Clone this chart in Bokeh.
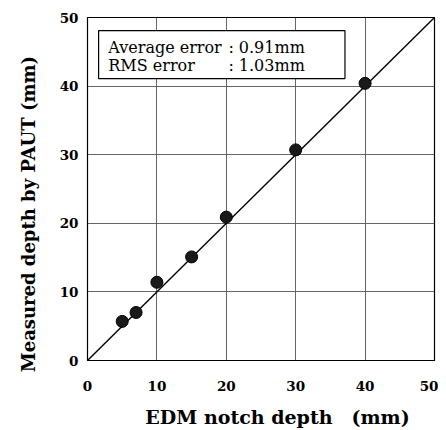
from bokeh.plotting import figure
from bokeh.models import BoxAnnotation, Label, Range1d, FixedTicker, ColumnDataSource
from bokeh.embed import file_html
from bokeh.resources import INLINE

# Data
edm_depth = [5, 7, 10, 15, 20, 30, 40]
paut_depth = [5.7, 7.0, 11.4, 15.1, 20.9, 30.7, 40.4]
ideal_x = [0, 50]
ideal_y = [0, 50]
ticks = [0, 10, 20, 30, 40, 50]
stat_names = ["Average error", "RMS error"]
stat_values = [": 0.91mm", ": 1.03mm"]
x_title = "EDM notch depth\u3000(mm)"
y_title = "Measured depth by PAUT (mm)"

FONT = "DejaVu Serif"
NB = "\u00a0"

p = figure(frame_width=347, frame_height=343, output_backend="svg", toolbar_location=None,
           x_range=Range1d(0, 50), y_range=Range1d(0, 50),
           min_border_left=87, min_border_right=4, min_border_top=17, min_border_bottom=62)

p.outline_line_color = "black"
p.outline_line_width = 1.2

for ax in (p.xaxis[0], p.yaxis[0]):
    ax.ticker = FixedTicker(ticks=ticks)
    ax.major_tick_in = 0
    ax.major_tick_out = 0
    ax.minor_tick_in = 0
    ax.minor_tick_out = 0
    ax.axis_line_color = "black"
    ax.major_label_text_font = FONT
    ax.major_label_text_font_style = "bold"
    ax.major_label_text_font_size = "13.5px"
    ax.major_label_text_color = "black"
    ax.axis_label_text_font = FONT
    ax.axis_label_text_font_style = "bold"
    ax.axis_label_text_color = "black"

# padding shifts the titles off-centre, as in the reference
p.xaxis.axis_label = NB * 5 + x_title
p.yaxis.axis_label = y_title + NB * 8
p.xaxis.axis_label_text_font_size = "19px"
p.yaxis.axis_label_text_font_size = "18px"
p.xaxis.major_label_standoff = 20
p.yaxis.major_label_standoff = 9
p.xaxis.axis_label_standoff = 12
p.yaxis.axis_label_standoff = 18

p.xgrid.ticker = FixedTicker(ticks=ticks)
p.ygrid.ticker = FixedTicker(ticks=ticks)
p.grid.grid_line_color = "#555555"
p.grid.grid_line_width = 1
p.grid.grid_line_alpha = 0.9

p.line(ideal_x, ideal_y, line_color="black", line_width=1.4)

src = ColumnDataSource(dict(x=edm_depth, y=paut_depth))
p.scatter("x", "y", source=src, size=12, fill_color="#1a1a1a", line_color="black")

box = BoxAnnotation(left=1.6, right=37.1, bottom=41.1, top=48.1,
                    fill_color="white", fill_alpha=1.0,
                    line_color="black", line_alpha=1.0, line_width=1.2)
p.add_layout(box)

rows_y = [45.6, 43.0]
for name, val, yy in zip(stat_names, stat_values, rows_y):
    p.add_layout(Label(x=3.0, y=yy, text=name, text_font=FONT, text_font_size="16px",
                       text_baseline="middle", text_color="black"))
    p.add_layout(Label(x=20.3, y=yy, text=val, text_font=FONT, text_font_size="16px",
                       text_baseline="middle", text_color="black"))

open("out.html", "w").write(file_html(p, INLINE))
